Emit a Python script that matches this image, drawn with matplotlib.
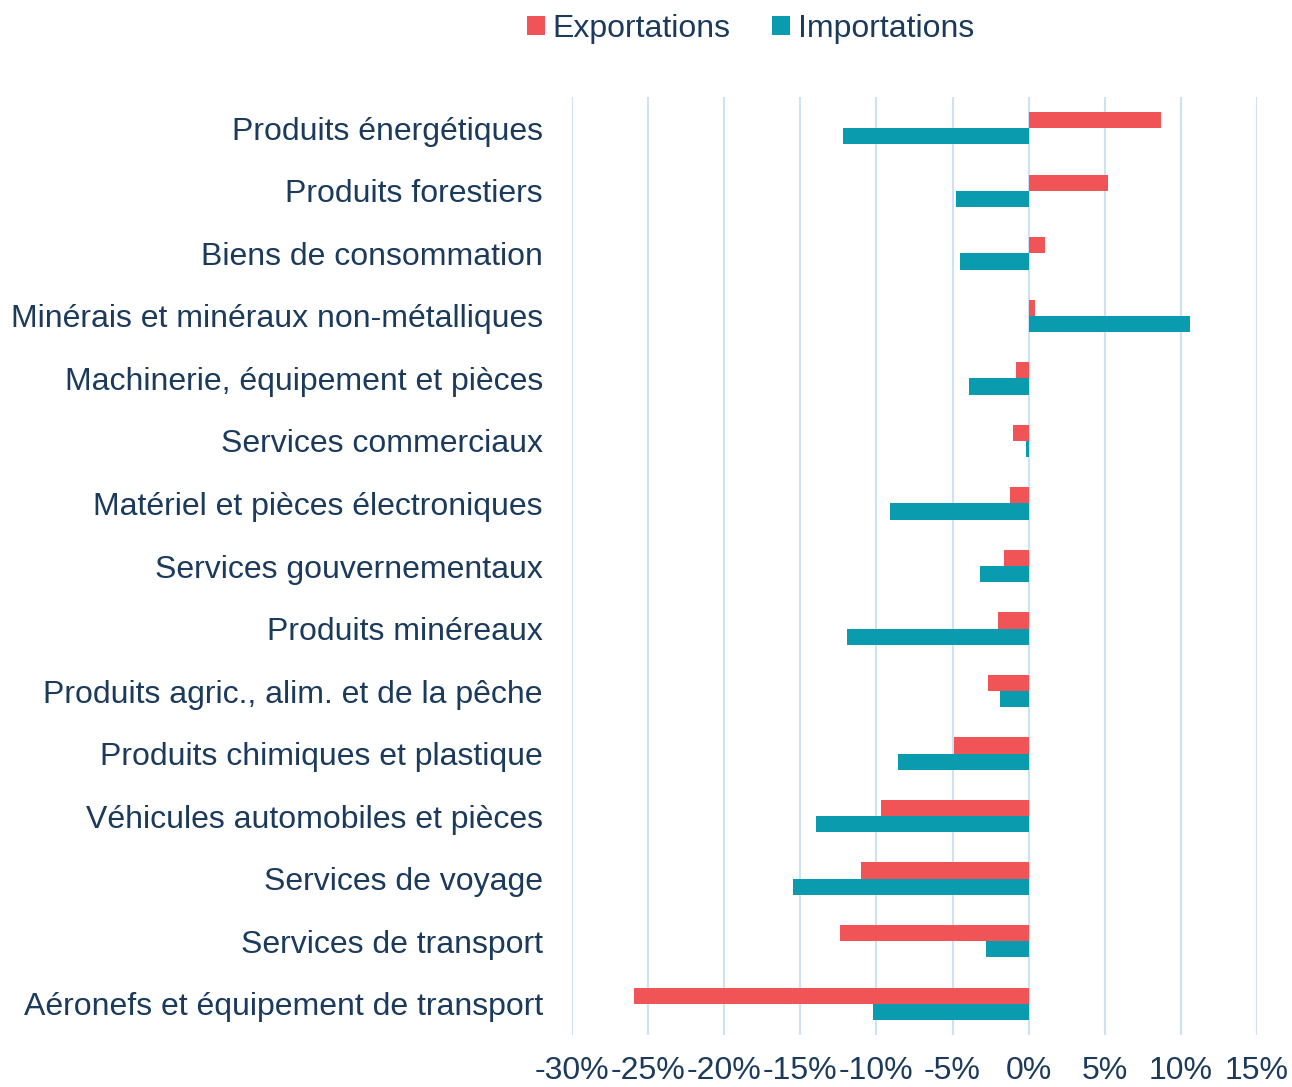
import numpy as np
import matplotlib.pyplot as plt
from matplotlib.ticker import FuncFormatter

categories = [
    "Produits énergétiques",
    "Produits forestiers",
    "Biens de consommation",
    "Minérais et minéraux non-métalliques",
    "Machinerie, équipement et pièces",
    "Services commerciaux",
    "Matériel et pièces électroniques",
    "Services gouvernementaux",
    "Produits minéreaux",
    "Produits agric., alim. et de la pêche",
    "Produits chimiques et plastique",
    "Véhicules automobiles et pièces",
    "Services de voyage",
    "Services de transport",
    "Aéronefs et équipement de transport",
]
exportations = [8.7, 5.2, 1.1, 0.4, -0.85, -1.0, -1.25, -1.6, -2.0, -2.7, -4.9, -9.7, -11.0, -12.4, -25.9]
importations = [-12.2, -4.8, -4.5, 10.6, -3.9, -0.2, -9.1, -3.2, -11.9, -1.9, -8.6, -14.0, -15.5, -2.8, -10.2]

RED = "#F05457"
TEAL = "#0A9BAF"
TXT = "#1B3A5C"
GRID = "#CFE2F5"

plt.rcParams['font.family'] = ['Liberation Sans', 'DejaVu Sans']

fig = plt.figure(figsize=(12.92, 10.87), dpi=100)
ax = fig.add_axes([0.4427, 0.0478, 0.5302, 0.863])

y = np.arange(len(categories))
h = 0.26
ax.barh(y - h / 2, exportations, height=h, color=RED, label="Exportations", zorder=3)
ax.barh(y + h / 2, importations, height=h, color=TEAL, label="Importations", zorder=3)

ax.set_ylim(len(categories) - 0.5, -0.5)
ax.set_xlim(-30, 15)
ax.set_xticks(np.arange(-30, 16, 5))
ax.xaxis.set_major_formatter(FuncFormatter(lambda v, p: f"{v:.0f}%"))
ax.set_yticks(y)
ax.set_yticklabels(categories)

ax.grid(axis='x', color=GRID, linewidth=1.5, zorder=0)
for s in ax.spines.values():
    s.set_visible(False)
ax.tick_params(axis='both', length=0, labelsize=23, labelcolor=TXT)
ax.tick_params(axis='y', pad=21)
ax.tick_params(axis='x', pad=15)

fig.legend(loc='upper center', bbox_to_anchor=(0.581, 1.014), ncol=2, frameon=False,
           fontsize=23, labelcolor=TXT, handlelength=0.55, handleheight=0.55,
           handletextpad=0.25, columnspacing=1.3)

fig.savefig("out.png", dpi=100)
